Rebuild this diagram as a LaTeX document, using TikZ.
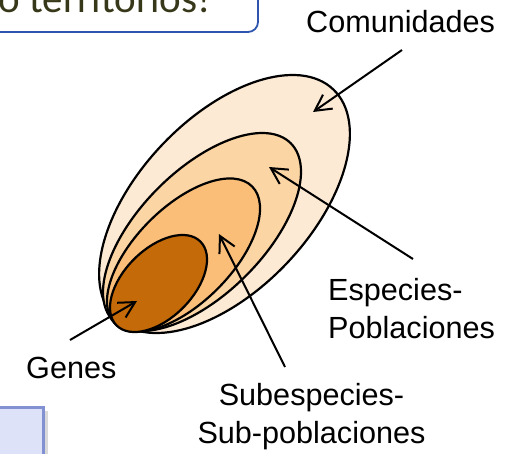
\documentclass[tikz,border=0pt]{standalone}
\usepackage{fontspec}
\setmainfont{Liberation Sans}
\newfontfamily\calibrifont{Carlito}
\usetikzlibrary{arrows.meta}
\definecolor{ringA}{RGB}{253,234,212}
\definecolor{ringB}{RGB}{252,213,165}
\definecolor{ringC}{RGB}{250,190,120}
\definecolor{ringD}{RGB}{196,106,8}
\definecolor{boxblue}{RGB}{47,85,175}
\definecolor{titletext}{RGB}{55,55,25}
\definecolor{lavfill}{RGB}{222,226,248}
\definecolor{lavborder}{RGB}{130,145,210}
\begin{document}
\begin{tikzpicture}[x=1pt,y=-1pt,
  ring/.style={draw=black, line width=2.2pt},
  lbl/.style={inner sep=0pt, font=\fontsize{30.6}{38}\selectfont},
  arr/.style={line width=2pt, -{Straight Barb[length=16pt,width=17pt,line width=2pt]}}]
\useasboundingbox (0,0) rectangle (505,453);
\clip (0,0) rectangle (505,453);
% partial boxes at the edges
\draw[boxblue, line width=1.8pt, rounded corners=10pt] (-30,-60) rectangle (258,32);
\node[inner sep=0pt, anchor=base east, text=titletext, font=\calibrifont\fontsize{41}{48}\selectfont] (title) at (211,12.5) {o territorios!};
\fill[black!15] (-20,410.5) rectangle (47.5,480);
\draw[lavborder, line width=2.5pt, fill=lavfill] (-20,407.5) rectangle (43.5,480);
% nested ellipses
\draw[ring, fill=ringA, shift={(224.5,204)}, rotate=46.5] (0,0) ellipse [x radius=158pt, y radius=86pt];
\draw[ring, fill=ringB, shift={(202,232)}, rotate=45] (0,0) ellipse [x radius=125.5pt, y radius=62pt];
\draw[ring, fill=ringC, shift={(183.5,255)}, rotate=45] (0,0) ellipse [x radius=97pt, y radius=48pt];
\draw[ring, fill=ringD, shift={(158.5,283.5)}, rotate=45] (0,0) ellipse [x radius=59.3pt, y radius=34.5pt];
% labels
\node[lbl, anchor=base west] (com) at (306,32) {Comunidades};
\node[lbl, anchor=base west, align=left] (esp) at (328,338) {Especies-\\Poblaciones};
\node[lbl, anchor=base, align=center] (sub) at (311.5,443) {Subespecies-\\Sub-poblaciones};
\node[lbl, anchor=base west] (gen) at (26,378) {Genes};
% arrow ends
\coordinate (comS) at (402,50);  \coordinate (comT) at (313,112);
\coordinate (espS) at (413,259); \coordinate (espT) at (269,167);
\coordinate (subS) at (285,367); \coordinate (subT) at (219,234);
\coordinate (genS) at (70,340);  \coordinate (genT) at (137,301);
\draw[arr] (comS) -- (comT);
\draw[arr] (espS) -- (espT);
\draw[arr] (subS) -- (subT);
\draw[arr] (genS) -- (genT);
\end{tikzpicture}
\end{document}
